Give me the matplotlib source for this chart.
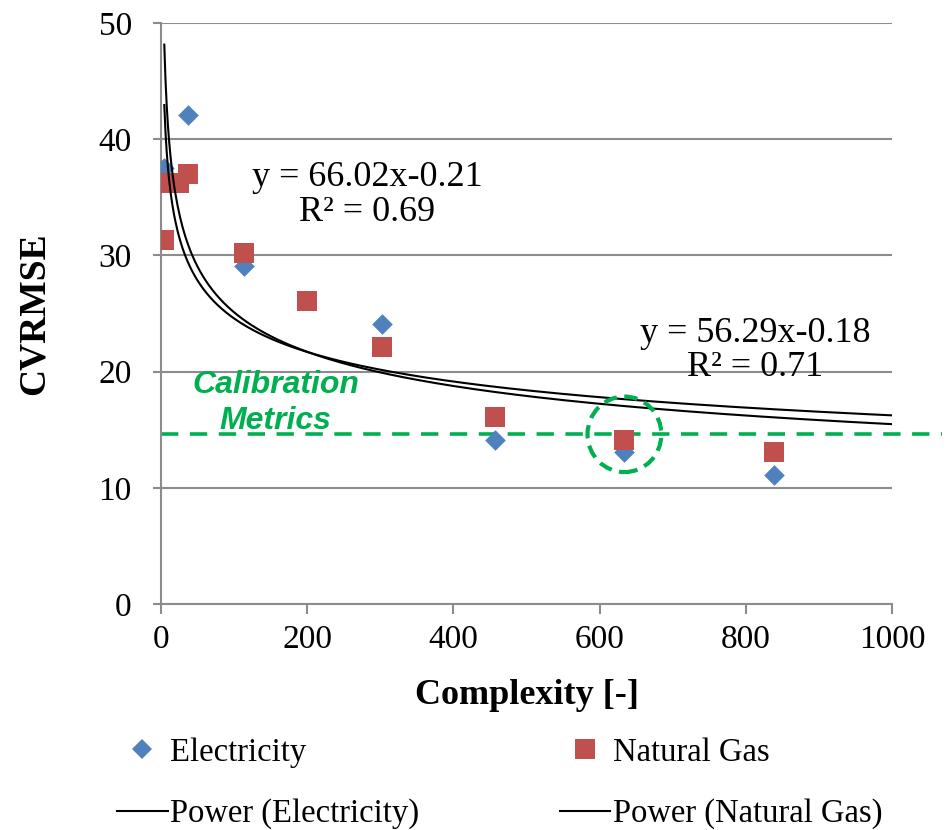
import matplotlib
matplotlib.use("Agg")
import matplotlib.pyplot as plt
from matplotlib.lines import Line2D
from matplotlib.patches import Ellipse
import numpy as np

# data
elec_x = [4.5, 37, 113, 303, 457, 634, 838]
elec_y = [37.5, 42.1, 29.1, 24.1, 14.1, 13.1, 11.1]
gas_x = [4.5, 11, 25, 37, 113, 200, 303, 457, 634, 838]
gas_y = [31.3, 36.2, 36.2, 37.0, 30.2, 26.1, 22.1, 16.1, 14.1, 13.1]

# power trendlines y = a * x^b (coefficients shown on the chart)
elec_a, elec_b, elec_r2 = 66.02, -0.21, 0.69
gas_a, gas_b, gas_r2 = 56.29, -0.18, 0.71

calib_y = 14.6      # calibration threshold line
circle_x = 634      # highlighted point
x_ticks = [0, 200, 400, 600, 800, 1000]
y_ticks = [0, 10, 20, 30, 40, 50]

blue = "#4F81BD"
red = "#C0504D"
green = "#00B050"
grey = "#8C8C8C"

plt.rcParams['font.family'] = ['Liberation Serif', 'DejaVu Serif']

fig = plt.figure(figsize=(9.46, 8.3), dpi=100)
ax = fig.add_axes([0.1702, 0.2723, 0.7727, 0.700])

ax.scatter(elec_x, elec_y, marker='D', s=10.5**2, color=blue, zorder=3, linewidths=0)
ax.scatter(gas_x, gas_y, marker='s', s=14**2, color=red, zorder=4, linewidths=0)

xe = np.linspace(min(elec_x), 1000, 600)
xg = np.linspace(min(gas_x), 1000, 600)
ax.plot(xe, elec_a * xe ** elec_b, color='k', lw=1.5, zorder=5)
ax.plot(xg, gas_a * xg ** gas_b, color='k', lw=1.5, zorder=5)

ax.text(282, 35.2, "y = %.2fx%.2f\nR² = %.2f" % (elec_a, elec_b, elec_r2),
        ha='center', va='center', fontsize=26, linespacing=1.05, zorder=6)
ax.text(813, 21.8, "y = %.2fx%.2f\nR² = %.2f" % (gas_a, gas_b, gas_r2),
        ha='center', va='center', fontsize=26, linespacing=1.05, zorder=6)

# calibration metrics
ax.plot([0, 1068], [calib_y, calib_y], color=green, lw=2.6, ls=(0, (4.8, 3.2)),
        clip_on=False, zorder=2)
ax.text(157, 17.3, "Calibration\nMetrics", ha='center', va='center', color=green,
        fontsize=23, fontweight='bold', fontstyle='italic',
        family=['Liberation Sans', 'DejaVu Sans'], linespacing=1.25, zorder=6)
ax.add_patch(Ellipse((circle_x, calib_y), 101, 6.5, fill=False, edgecolor=green,
                     lw=3, ls=(0, (3.2, 1.8)), zorder=6))

ax.set_xlim(0, 1000)
ax.set_ylim(0, 50)
ax.set_xticks(x_ticks)
ax.set_yticks(y_ticks)
ax.yaxis.grid(True, color=grey, lw=1.5)
ax.set_axisbelow(True)
for s in ['top', 'right']:
    ax.spines[s].set_visible(False)
for s in ['left', 'bottom']:
    ax.spines[s].set_color(grey)
    ax.spines[s].set_linewidth(1.5)
ax.tick_params(axis='x', direction='out', length=7, width=1.5, color=grey,
               labelsize=24, pad=8)
ax.tick_params(axis='y', direction='out', length=6, width=1.5, color=grey,
               labelsize=24, pad=15)

ax.set_xlabel("Complexity [-]", fontsize=26, fontweight='bold')
ax.xaxis.set_label_coords(0.5, -0.157)
ax.xaxis.label.set_va('center')
ax.set_ylabel("CVRMSE", fontsize=27, fontweight='bold')
ax.yaxis.set_label_coords(-0.174, 0.5)
ax.yaxis.label.set_va('center')

handles = [
    Line2D([], [], marker='D', color=blue, ls='none', markersize=10.5, markeredgewidth=0),
    Line2D([], [], color='k', lw=1.5),
    Line2D([], [], marker='s', color=red, ls='none', markersize=14, markeredgewidth=0),
    Line2D([], [], color='k', lw=1.5),
]
labels = ["Electricity", "Power (Electricity)", "Natural Gas", "Power (Natural Gas)"]
fig.legend(handles, labels, ncol=2, loc='upper left', bbox_to_anchor=(117 / 946, 1 - 737 / 830),
           frameon=False, fontsize=23.5, handlelength=1.55, handletextpad=0.08,
           columnspacing=4.3, labelspacing=0.95, borderpad=0, borderaxespad=0)

fig.savefig("out.png", dpi=100)
